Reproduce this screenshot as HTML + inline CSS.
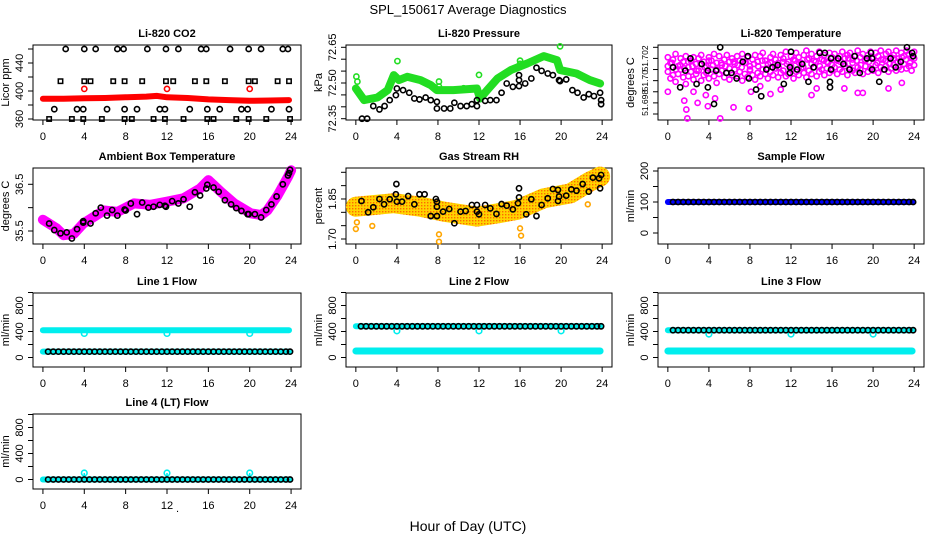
<!DOCTYPE html>
<html><head><meta charset="utf-8"><style>
html,body{margin:0;padding:0;background:#fff;}
svg{display:block;font-family:"Liberation Sans",Arial,sans-serif;}
</style></head><body>
<svg id="chart" width="936" height="540" viewBox="0 0 936 540">
<defs>
<pattern id="rhpat" width="3" height="3" patternUnits="userSpaceOnUse"><rect width="3" height="3" fill="#ffd400"/><rect x="1" y="1" width="1.4" height="1.4" fill="#ff6a00"/></pattern>
</defs>
<text x="468" y="14" text-anchor="middle" font-size="13">SPL_150617  Average Diagnostics</text>
<text x="468" y="531" text-anchor="middle" font-size="14">Hour of Day (UTC)</text>
<text x="176" y="512" font-size="11">.</text>
</svg>
<script>
// ---------- data ----------
const xTicks = [0,4,8,12,16,20,24];
// CO2
const co2BandHours = [0,2,4,6,8,10,11,12,14,16,18,20,22,23.8];
const co2BandVals = [389,389,389.5,390,391,392,393,391,390,388,387,386,386.5,387];
const co2RedHours = [4,12,20];
const co2RedVals = [403,403,403];
const co2TopHours = [2.2,4.0,5.1,7.2,7.8,10.1,11.9,13.1,15.3,15.8,18.1,19.9,21.1,23.2,23.7];
const co2TopVals = [460,460,460,460,460,460,460,460,460,460,460,460,460,460,460];
const co2SqHours = [1.7,4.0,4.6,6.8,7.9,9.6,11.9,12.6,14.7,15.8,17.6,19.9,20.5,22.7,23.8];
const co2SqVals = [414,414,414,414,414,414,414,414,414,414,414,414,414,414,414];
const co2LowHours = [1.1,3.3,3.9,6.2,7.9,9.1,11.3,11.8,14.2,15.9,17.1,19.2,19.8,22.1,23.8];
const co2LowVals = [374,374,374,374,374,374,374,374,374,374,374,374,374,374,374];
const co2BotHours = [0.6,2.8,3.9,5.7,7.9,8.6,10.7,11.8,13.6,15.9,16.5,18.7,19.9,21.6,23.9];
const co2BotVals = [360,360,360,360,360,360,360,360,360,360,360,360,360,360,360];
// Pressure
const presBandHours = [0,0.8,2.1,3.1,3.7,4.2,5.0,6.3,7.3,7.9,9.5,11.8,12.1,12.8,13.8,15.1,16.7,18.3,19.6,19.9,21.5,22.8,23.8];
const presBandVals = [72.477,72.428,72.439,72.470,72.533,72.512,72.526,72.512,72.491,72.470,72.470,72.477,72.435,72.470,72.519,72.554,72.582,72.613,72.596,72.554,72.540,72.512,72.498];
const presGreenHours = [0.05,0.15,4.05,8.1,8.1,10.5,12.0,16.0,16.0,19.9];
const presGreenVals = [72.527,72.506,72.592,72.506,72.485,72.478,72.534,72.594,72.580,72.654];
const presBlackHours = [0.6,1.1,1.7,2.3,2.8,3.3,3.9,4.0,4.6,5.2,5.7,6.2,6.8,7.3,7.9,7.9,8.6,9.2,9.6,10.2,10.8,11.3,11.8,11.8,12.6,13.1,13.7,14.2,14.7,15.3,15.9,15.9,15.9,16.5,17.1,17.6,18.1,18.7,19.2,19.8,19.9,20.5,21.1,21.6,22.2,22.7,23.2,23.8,23.9,23.9];
const presBlackVals = [72.35,72.35,72.403,72.389,72.403,72.428,72.449,72.477,72.470,72.459,72.435,72.431,72.439,72.428,72.393,72.421,72.393,72.393,72.417,72.403,72.403,72.411,72.403,72.428,72.425,72.428,72.428,72.459,72.498,72.484,72.487,72.512,72.533,72.498,72.519,72.564,72.551,72.540,72.533,72.512,72.508,72.515,72.470,72.459,72.439,72.453,72.445,72.459,72.411,72.428];
// Li-820 temperature
const tempBlackHours = [0.5,1.2,1.7,2.2,2.8,3.3,3.9,3.9,4.5,4.7,5.1,5.7,6.2,6.7,7.3,7.8,7.9,8.6,9.1,9.6,10.2,10.7,11.3,11.9,12.0,11.9,12.6,13.1,13.7,14.2,14.8,15.3,15.9,15.9,15.8,15.8,16.6,17.1,17.7,18.2,18.7,19.4,19.8,19.9,19.9,20.6,21.1,21.7,22.2,22.7,23.3,23.8,23.9];
const tempBlackVals = [51.7012,51.6994,51.7009,51.7020,51.6997,51.7015,51.7009,51.6994,51.6979,51.7009,51.7030,51.7007,51.7007,51.7002,51.7017,51.7022,51.7002,51.6992,51.6986,51.7010,51.7012,51.7014,51.6997,51.7012,51.7026,51.7007,51.7010,51.7015,51.6999,51.7012,51.7025,51.7025,51.7020,51.7010,51.6999,51.6994,51.7020,51.7015,51.7010,51.7022,51.7007,51.7020,51.7025,51.7020,51.7010,51.6999,51.7010,51.7020,51.7012,51.7017,51.7030,51.7025,51.7022];
const tempMagA = [51.7021,51.7016,51.7019,51.7024,51.7013,51.7020,51.7017,51.7022,51.7012,51.7018,51.7021,51.7015,51.7020,51.7023,51.7017,51.7013,51.7021,51.7018,51.7024,51.7016,51.7022,51.7014,51.7019,51.7023,51.7017,51.7020,51.7015,51.7022,51.7018,51.7024,51.7016,51.7021,51.7013,51.7019,51.7023,51.7017,51.7022,51.7025,51.7018,51.7015,51.7021,51.7024,51.7019,51.7016,51.7023,51.7020,51.7026,51.7017,51.7022,51.7019,51.7025,51.7021,51.7016,51.7023,51.7027,51.7020,51.7024,51.7018,51.7022,51.7026,51.7019,51.7023,51.7017,51.7025,51.7021,51.7024,51.7018,51.7022,51.7026,51.7020,51.7023,51.7025,51.7019,51.7022,51.7027,51.7021,51.7024,51.7018,51.7023,51.7026,51.7020,51.7025,51.7022,51.7027,51.7019,51.7024,51.7026,51.7021,51.7023,51.7027,51.7020,51.7025,51.7022,51.7027,51.7024,51.7021,51.7026];
const tempMagB = [51.7008,51.7002,51.7005,51.6999,51.7006,51.7010,51.7003,51.6997,51.7004,51.7008,51.7001,51.7006,51.7009,51.7000,51.7005,51.7007,51.7002,51.7010,51.7004,51.6998,51.7006,51.7009,51.7003,51.7007,51.7001,51.7005,51.7010,51.7004,51.7008,51.7000,51.7006,51.7003,51.7009,51.7005,51.7001,51.7007,51.7004,51.7010,51.7006,51.7002,51.7008,51.7005,51.7011,51.7003,51.7007,51.7009,51.7004,51.7006,51.7010,51.7002,51.7008,51.7005,51.7011,51.7007,51.7003,51.7009,51.7006,51.7012,51.7004,51.7008,51.7010,51.7005,51.7011,51.7007,51.7009,51.7012,51.7006,51.7010,51.7008,51.7013,51.7005,51.7011,51.7009,51.7007,51.7012,51.7010,51.7006,51.7013,51.7008,51.7011,51.7009,51.7014,51.7007,51.7012,51.7010,51.7013,51.7008,51.7011,51.7014,51.7009,51.7012,51.7010,51.7015,51.7011,51.7013,51.7009,51.7014];
const tempMagC = [51.7013,51.7016,51.7010,51.7014,51.7011,51.7017,51.7013,51.7009,51.7015,51.7012,51.7018,51.7014,51.7010,51.7016,51.7013,51.7011,51.7017,51.7014,51.7012,51.7016,51.7010,51.7015,51.7013,51.7018,51.7011,51.7016,51.7014,51.7012,51.7017,51.7015,51.7013,51.7018,51.7016,51.7012,51.7019,51.7015,51.7017,51.7013,51.7018,51.7016,51.7014,51.7019,51.7017,51.7015,51.7020,51.7016,51.7018,51.7014,51.7019,51.7017,51.7021,51.7016,51.7019,51.7018,51.7015,51.7020,51.7017,51.7021,51.7019,51.7016,51.7020];
const tempOutHours = [0.0,1.6,1.8,1.9,2.9,3.7,3.9,4.6,5.1,6.4,7.9,8.1,10.0,11.0,14.0,14.5,17.2,18.5,19.0,21.5,22.8,2.5,9.0];
const tempOutVals = [51.6990,51.6982,51.6974,51.6966,51.6980,51.6987,51.6977,51.6984,51.6966,51.6976,51.6975,51.6990,51.6988,51.6992,51.6987,51.6993,51.6993,51.6989,51.6989,51.6993,51.6998,51.6990,51.6995];
// Ambient box temperature
const ambBandHours = [0,1.3,2.0,3.0,3.9,4.9,5.9,7.2,8.8,10.4,12.0,13.6,15.2,16.0,17.2,18.5,20.1,21.1,21.7,22.7,23.7,24.0];
const ambBandVals = [35.74,35.56,35.41,35.44,35.66,35.80,35.94,35.91,36.09,36.06,36.13,36.20,36.41,36.59,36.34,36.09,35.88,35.84,35.94,36.26,36.66,36.80];
const ambBlackHours = [0.6,1.1,1.7,2.3,2.8,3.3,3.9,3.9,4.6,5.1,5.6,6.2,6.7,7.2,7.9,8.0,8.5,9.1,9.6,10.2,10.7,11.3,11.8,11.9,12.5,13.1,13.6,14.2,14.7,15.2,15.8,15.9,16.5,17.0,17.6,18.2,18.7,19.2,19.8,19.9,20.5,21.1,21.6,22.1,22.6,23.2,23.7,23.8,23.9];
const ambBlackVals = [35.66,35.52,35.45,35.47,35.34,35.54,35.71,35.68,35.66,35.88,36.00,35.83,35.95,35.83,35.96,35.94,36.09,35.86,36.11,36.00,36.02,36.06,36.04,36.02,36.14,36.09,36.18,36.02,36.33,36.26,36.41,36.49,36.43,36.34,36.16,36.07,35.99,35.93,35.86,35.86,35.86,35.79,35.95,36.07,36.24,36.50,36.69,36.74,36.81];
// Gas stream RH
const rhBandHours = [0,3.7,6.3,8.6,11.8,13.8,15.7,18.3,20.9,22.8,23.8];
const rhBandVals = [1.821,1.834,1.821,1.8025,1.784,1.796,1.809,1.8525,1.871,1.915,1.934];
const rhOutHours = [0,0.1,1.6,8.1,8.1,16.1,16.0,22.6];
const rhOutVals = [1.7375,1.7625,1.749,1.7175,1.69,1.7125,1.74,1.83];
const rhBlackHours = [0.55,1.2,1.7,2.3,2.75,3.3,3.9,3.95,4.0,4.5,5.1,5.7,6.2,6.7,7.3,7.8,7.9,7.9,7.9,8.5,9.1,9.6,10.2,10.7,11.3,11.8,11.8,12.0,12.6,13.1,13.7,14.2,14.7,15.3,15.9,15.9,15.8,16.6,17.1,17.6,18.1,18.7,19.2,19.7,19.8,19.7,20.5,21.0,21.5,22.1,22.7,23.1,23.7,23.9,23.8];
const rhBlackVals = [1.8425,1.80,1.819,1.85,1.83,1.849,1.8675,1.906,1.84,1.84,1.861,1.83,1.8675,1.8675,1.786,1.85,1.84,1.821,1.786,1.8025,1.8125,1.759,1.8025,1.805,1.8275,1.8275,1.8025,1.7925,1.8275,1.815,1.794,1.831,1.825,1.811,1.89,1.856,1.834,1.7925,1.849,1.786,1.8275,1.8525,1.8875,1.884,1.859,1.8425,1.8625,1.886,1.881,1.906,1.8775,1.93,1.9275,1.94,1.89];
// Flows (half-hourly black markers)
const halfHours = [0.5,1,1.5,2,2.5,3,3.5,4,4.5,5,5.5,6,6.5,7,7.5,8,8.5,9,9.5,10,10.5,11,11.5,12,12.5,13,13.5,14,14.5,15,15.5,16,16.5,17,17.5,18,18.5,19,19.5,20,20.5,21,21.5,22,22.5,23,23.5,23.9];
const sampleBlack = [100,100,100,100,100,100,100,100,100,100,100,100,100,100,100,100,100,100,100,100,100,100,100,100,100,100,100,100,100,100,100,100,100,100,100,100,100,100,100,100,100,100,100,100,100,100,100,100];
const line1Black = [90,90,90,90,90,90,90,90,90,90,90,90,90,90,90,90,90,90,90,90,90,90,90,90,90,90,90,90,90,90,90,90,90,90,90,90,90,90,90,90,90,90,90,90,90,90,90,90];
const line2Black = [480,480,480,480,480,480,480,480,480,480,480,480,480,480,480,480,480,480,480,480,480,480,480,480,480,480,480,480,480,480,480,480,480,480,480,480,480,480,480,480,480,480,480,480,480,480,480,480];
const line3Black = [420,420,420,420,420,420,420,420,420,420,420,420,420,420,420,420,420,420,420,420,420,420,420,420,420,420,420,420,420,420,420,420,420,420,420,420,420,420,420,420,420,420,420,420,420,420,420,420];
const line4Black = [0,0,0,0,0,0,0,0,0,0,0,0,0,0,0,0,0,0,0,0,0,0,0,0,0,0,0,0,0,0,0,0,0,0,0,0,0,0,0,0,0,0,0,0,0,0,0,0];
const bandHours = [0,23.8];
const sampleBand = [100,100];
const line1HighBand = [420,420];
const line1LowBand = [90,90];
const line2HighBand = [480,480];
const line2LowBand = [100,100];
const line3HighBand = [420,420];
const line3LowBand = [100,100];
const line4Band = [0,0];
const spikeHours = [4,12,20];
const line1Spikes = [370,370,370];
const line2Spikes = [410,410,410];
const line3Spikes = [360,360,360];
const line4Spikes = [100,100,100];

// ---------- helpers ----------
const svg = document.getElementById('chart');
const NS = 'http://www.w3.org/2000/svg';
function mk(tag, attrs, parent){
  const e = document.createElementNS(NS, tag);
  for (const k in attrs) e.setAttribute(k, attrs[k]);
  (parent||svg).appendChild(e);
  return e;
}
const cols = [[33,301],[346,612],[658,924]];
const rows = [[45,120],[168,244],[293,367],[414,489]];
function makePanel(c, r, v1, p1, v2, p2, name){
  const [x0,x1] = cols[c], [y0,y1] = rows[r];
  const g = mk('g', {});
  
  
  return {x0,x1,y0,y1,g,
    x: h => x0 + (h + 0.96) / 25.92 * (x1 - x0),
    y: v => p1 + (v - v1) * (p2 - p1) / (v2 - v1)};
}
function frame(P, title, ytitle, yTicks, yLabels, yfs){
  const b = mk('rect', {x:P.x0, y:P.y0, width:P.x1-P.x0, height:P.y1-P.y0, fill:'none', stroke:'#000', 'stroke-width':1}, P.g);
  
  
  const t = mk('text', {x:(P.x0+P.x1)/2, y:P.y0-8, 'text-anchor':'middle', 'font-size':11, 'font-weight':'bold'}, P.g);
  t.textContent = title;
  
  
  const yt = mk('text', {transform:`translate(${P.x0-24},${(P.y0+P.y1)/2}) rotate(-90)`, 'text-anchor':'middle', 'font-size':11}, P.g);
  yt.textContent = ytitle;
  
  
  xTicks.forEach(h => {
    const X = P.x(h);
    const tk = mk('line', {x1:X, x2:X, y1:P.y1, y2:P.y1+5, stroke:'#000'}, P.g);
    
    
    const lb = mk('text', {x:X, y:P.y1+20, 'text-anchor':'middle', 'font-size':11}, P.g);
    lb.textContent = h;
    
    
  });
  yTicks.forEach((v,i) => {
    const Y = P.y(v);
    const tk = mk('line', {x1:P.x0-5, x2:P.x0, y1:Y, y2:Y, stroke:'#000'}, P.g);
    
    
    if (yLabels[i] !== '') {
      const lb = mk('text', {transform:`translate(${P.x0-10},${Y}) rotate(-90)`, 'text-anchor':'middle', 'font-size':yfs||11}, P.g);
      lb.textContent = yLabels[i];
      
      
    }
  });
}
function band(P, hs, vs, color, w, name){
  const pts = hs.map((h,i) => P.x(h).toFixed(1)+','+P.y(vs[i]).toFixed(1)).join(' ');
  const pl = mk('polyline', {points:pts, fill:'none', stroke:color, 'stroke-width':w, 'stroke-linejoin':'round', 'stroke-linecap':'round'}, P.g);
  
  
}
function pts(P, hs, vs, color, r, name, sq){
  hs.forEach((h,i) => {
    let e;
    if (sq) e = mk('rect', {x:P.x(h)-r, y:P.y(vs[i])-r, width:2*r, height:2*r, fill:'none', stroke:color, 'stroke-width':1.5}, P.g);
    else e = mk('circle', {cx:P.x(h), cy:P.y(vs[i]), r:r, fill:'none', stroke:color, 'stroke-width':1.6}, P.g);
    
    
  });
}
function spikes(P, hs, vs, base, color, name){
  hs.forEach((h,i) => {
    const l = mk('line', {x1:P.x(h), x2:P.x(h), y1:P.y(base), y2:P.y(vs[i]), stroke:color, 'stroke-width':1.5}, P.g);
    
    
  });
  pts(P, hs, vs, color, 2.8, name);
}

// ---------- panels ----------
let P = makePanel(0,0, 360,119, 400,91, 'co2-panel');
frame(P, 'Li-820 CO2', 'Licor ppm', [360,380,400,420,440,460], ['360','','400','','440','']);
band(P, co2BandHours, co2BandVals, '#f00', 6, 'co2-red-band');
pts(P, co2RedHours, co2RedVals, '#f00', 2.6, 'co2-red-point');
pts(P, co2TopHours, co2TopVals, '#000', 2.6, 'co2-black-point');
pts(P, co2SqHours, co2SqVals, '#000', 2.2, 'co2-black-square', true);
pts(P, co2LowHours, co2LowVals, '#000', 2.6, 'co2-black-point');
pts(P, co2BotHours, co2BotVals, '#000', 2.2, 'co2-black-square', true);

P = makePanel(1,0, 72.35,118.7, 72.65,47.3, 'pressure-panel');
frame(P, 'Li-820 Pressure', 'kPa', [72.35,72.40,72.45,72.50,72.55,72.60,72.65], ['72.35','','','72.50','','','72.65']);
band(P, presBandHours, presBandVals, '#22dd22', 8, 'pressure-green-band');
pts(P, presGreenHours, presGreenVals, '#22dd22', 2.6, 'pressure-green-point');
pts(P, presBlackHours, presBlackVals, '#000', 2.6, 'pressure-black-point');

P = makePanel(2,0, 51.703,47.3, 51.697,114, 'li820-temperature-panel');
frame(P, 'Li-820 Temperature', 'degrees C', [51.703,51.702,51.701,51.700,51.699,51.698,51.697], ['','51.702','','51.70','','51.698',''], 8.5);
const qh = n => Array.from({length:n}, (_,i) => i*24/(n-1));
pts(P, qh(tempMagA.length), tempMagA, '#ff00ff', 2.6, 'temp-magenta-point');
pts(P, qh(tempMagB.length), tempMagB, '#ff00ff', 2.6, 'temp-magenta-point');
pts(P, qh(tempMagC.length), tempMagC, '#ff00ff', 2.6, 'temp-magenta-point');
pts(P, tempOutHours, tempOutVals, '#ff00ff', 2.6, 'temp-magenta-outlier');
pts(P, tempBlackHours, tempBlackVals, '#000', 2.6, 'temp-black-point');

P = makePanel(0,1, 35.5,231, 36.5,184.3, 'ambient-temperature-panel');
frame(P, 'Ambient Box Temperature', 'degrees C', [35.5,36.0,36.5], ['35.5','','36.5']);
band(P, ambBandHours, ambBandVals, '#ff00ff', 10, 'ambient-magenta-band');
pts(P, ambBlackHours, ambBlackVals, '#000', 2.6, 'ambient-black-point');

P = makePanel(1,1, 1.70,239, 1.95,172.3, 'gas-rh-panel');
frame(P, 'Gas Stream RH', 'percent', [1.70,1.75,1.80,1.85,1.90,1.95], ['1.70','','','1.85','','']);
band(P, rhBandHours, rhBandVals, 'url(#rhpat)', 20, 'rh-orange-band');
pts(P, rhOutHours, rhOutVals, '#ffa500', 2.4, 'rh-orange-outlier');
pts(P, rhBlackHours, rhBlackVals, '#000', 2.6, 'rh-black-point');

P = makePanel(2,1, 0,233, 200,171, 'sample-flow-panel');
frame(P, 'Sample Flow', 'ml/min', [0,50,100,150,200], ['0','','100','','200']);
band(P, bandHours, sampleBand, '#0000ff', 6, 'sample-blue-band');
pts(P, halfHours, sampleBlack, '#000', 2.6, 'sample-black-point');

function flowPanel(c, r, title, name){
  const p = makePanel(c, r, 0, rows[r][1]-9.5, 800, rows[r][1]-9.5-52, name);
  frame(p, title, 'ml/min', [0,200,400,600,800,1000], ['0','','400','','800','']);
  return p;
}
P = flowPanel(0,2, 'Line 1 Flow', 'line1-flow-panel');
band(P, bandHours, line1HighBand, '#00eeee', 6, 'line1-cyan-high-band');
band(P, bandHours, line1LowBand, '#00eeee', 6, 'line1-cyan-low-band');
pts(P, spikeHours, line1Spikes, '#00eeee', 2.8, 'line1-cyan-dip');
pts(P, halfHours, line1Black, '#000', 2.6, 'line1-black-point');

P = flowPanel(1,2, 'Line 2 Flow', 'line2-flow-panel');
band(P, bandHours, line2HighBand, '#00eeee', 6, 'line2-cyan-high-band');
band(P, bandHours, line2LowBand, '#00eeee', 7, 'line2-cyan-low-band');
pts(P, spikeHours, line2Spikes, '#00eeee', 2.8, 'line2-cyan-dip');
pts(P, halfHours, line2Black, '#000', 2.6, 'line2-black-point');

P = flowPanel(2,2, 'Line 3 Flow', 'line3-flow-panel');
band(P, bandHours, line3HighBand, '#00eeee', 6, 'line3-cyan-high-band');
band(P, bandHours, line3LowBand, '#00eeee', 7, 'line3-cyan-low-band');
pts(P, spikeHours, line3Spikes, '#00eeee', 2.8, 'line3-cyan-dip');
pts(P, halfHours, line3Black, '#000', 2.6, 'line3-black-point');

P = flowPanel(0,3, 'Line 4 (LT) Flow', 'line4-flow-panel');
band(P, bandHours, line4Band, '#00eeee', 6, 'line4-cyan-band');
spikes(P, spikeHours, line4Spikes, 0, '#00eeee', 'line4-cyan-spike');
pts(P, halfHours, line4Black, '#000', 2.6, 'line4-black-point');
</script>
</body></html>
